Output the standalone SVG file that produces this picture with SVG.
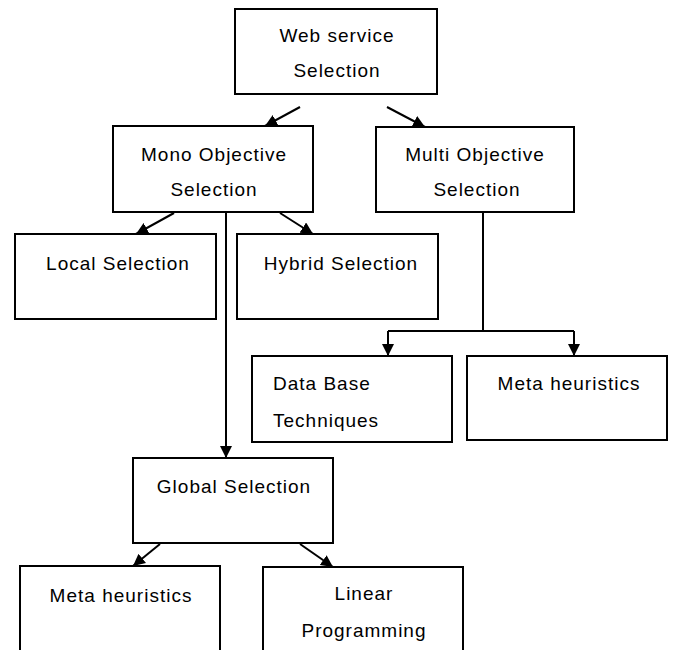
<svg xmlns="http://www.w3.org/2000/svg" width="673" height="650" viewBox="0 0 673 650">
<style>
.box{fill:#fff;stroke:#000;stroke-width:2}
.lbl{font-family:"Liberation Sans",Arial,sans-serif;font-size:19px;letter-spacing:1px;fill:#000;text-anchor:middle}
.lft{text-anchor:start}
.con{stroke:#000;stroke-width:2;fill:none}
</style>
<defs>
<marker id="ah" markerUnits="userSpaceOnUse" markerWidth="14" markerHeight="12" refX="12" refY="6" orient="auto">
<path d="M0,0 L12,6 L0,12 z" fill="#000"/>
</marker>
</defs>
<rect width="673" height="650" fill="#fff"/>
<g id="connectors">
<line class="con" x1="300" y1="107" x2="265" y2="126" marker-end="url(#ah)"/>
<line class="con" x1="387" y1="107" x2="425" y2="127" marker-end="url(#ah)"/>
<line class="con" x1="174" y1="213" x2="136" y2="234" marker-end="url(#ah)"/>
<line class="con" x1="280" y1="213" x2="313" y2="234" marker-end="url(#ah)"/>
<line class="con" x1="226" y1="212" x2="226" y2="458" marker-end="url(#ah)"/>
<polyline class="con" points="483,212 483,331"/>
<line class="con" x1="388" y1="331" x2="574" y2="331"/>
<line class="con" x1="388" y1="331" x2="388" y2="356" marker-end="url(#ah)"/>
<line class="con" x1="574" y1="331" x2="574" y2="356" marker-end="url(#ah)"/>
<line class="con" x1="160" y1="544" x2="133" y2="566" marker-end="url(#ah)"/>
<line class="con" x1="300" y1="544" x2="333" y2="567" marker-end="url(#ah)"/>
</g>
<g id="web-service-selection">
<rect class="box" x="235" y="9" width="202" height="85"/>
<text class="lbl" x="337" y="42">Web service</text>
<text class="lbl" x="337" y="77">Selection</text>
</g>
<g id="mono-objective">
<rect class="box" x="113" y="126" width="200" height="86"/>
<text class="lbl" x="214" y="161">Mono Objective</text>
<text class="lbl" x="214" y="196">Selection</text>
</g>
<g id="multi-objective">
<rect class="box" x="376" y="127" width="198" height="85"/>
<text class="lbl" x="475" y="161">Multi Objective</text>
<text class="lbl" x="477" y="196">Selection</text>
</g>
<g id="local-selection">
<rect class="box" x="15" y="234" width="201" height="85"/>
<text class="lbl" x="118" y="270">Local Selection</text>
</g>
<g id="hybrid-selection">
<rect class="box" x="237" y="234" width="201" height="85"/>
<text class="lbl" x="341" y="270">Hybrid Selection</text>
</g>
<g id="data-base-techniques">
<rect class="box" x="252" y="356" width="200" height="86"/>
<text class="lbl lft" x="273" y="390">Data Base</text>
<text class="lbl lft" x="273" y="427">Techniques</text>
</g>
<g id="meta-heuristics-multi">
<rect class="box" x="467" y="356" width="200" height="84"/>
<text class="lbl" x="569" y="390">Meta heuristics</text>
</g>
<g id="global-selection">
<rect class="box" x="133" y="458" width="200" height="85"/>
<text class="lbl" x="234" y="493">Global Selection</text>
</g>
<g id="meta-heuristics-global">
<rect class="box" x="20" y="566" width="200" height="100"/>
<text class="lbl" x="121" y="602">Meta heuristics</text>
</g>
<g id="linear-programming">
<rect class="box" x="263" y="567" width="200" height="100"/>
<text class="lbl" x="364" y="600">Linear</text>
<text class="lbl" x="364" y="637">Programming</text>
</g>
</svg>
